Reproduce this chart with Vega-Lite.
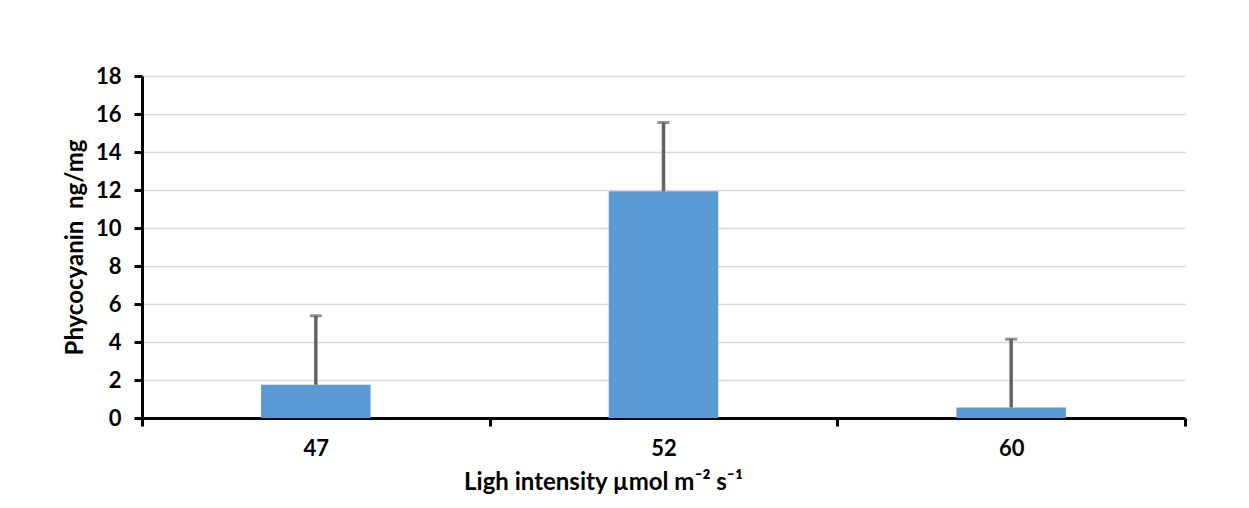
{
  "$schema": "https://vega.github.io/schema/vega-lite/v6.json",
  "autosize": {"type": "none"},
  "width": 1043,
  "height": 342,
  "padding": {"left": 142, "top": 76, "right": 64, "bottom": 90},
  "background": "white",
  "config": {
    "view": {"stroke": null},
    "font": "Lato",
    "axisY": {
      "tickCount": 10,
      "labelOverlap": false,
      "labelFont": "Lato", "labelFontSize": 22, "labelFontWeight": "bold", "labelColor": "black", "labelPadding": 13,
      "tickColor": "black", "tickWidth": 3, "tickSize": 8,
      "domainColor": "black", "domainWidth": 3,
      "grid": true, "gridColor": "#d9d9d9", "gridWidth": 1.5,
      "titleFont": "Lato", "titleFontSize": 24, "titleFontWeight": "bold", "titleColor": "black",
      "titleX": -67, "titleY": 171, "titleAngle": -90, "titleAlign": "center", "titleBaseline": "middle"
    }
  },
  "data": {"values": [
    {"light": "47", "value": 1.75, "upper": 5.38},
    {"light": "52", "value": 11.93, "upper": 15.55},
    {"light": "60", "value": 0.55, "upper": 4.15}
  ]},
  "encoding": {
    "x": {
      "field": "light", "type": "nominal", "sort": ["47", "52", "60"],
      "scale": {"type": "band", "paddingInner": 0, "paddingOuter": 0},
      "axis": {
        "title": "Ligh intensity µmol m⁻² s⁻¹",
        "labelAngle": 0, "labelFont": "Lato", "labelFontSize": 22, "labelFontWeight": "bold", "labelColor": "black",
        "labelPadding": 12, "labelBaseline": "top",
        "tickBand": "extent", "tickColor": "black", "tickWidth": 3, "tickSize": 8,
        "domainColor": "black", "domainWidth": 3, "grid": false,
        "titleFont": "Lato", "titleFontSize": 24, "titleFontWeight": "bold", "titleColor": "black",
        "titleX": 461, "titleY": 71, "titleAlign": "center", "titleBaseline": "alphabetic"
      }
    }
  },
  "layer": [
    {
      "mark": {"type": "bar", "color": "#5b9bd5", "width": {"band": 0.315}},
      "encoding": {
        "y": {
          "field": "value", "type": "quantitative",
          "scale": {"domain": [0, 18], "nice": false},
          "axis": {"title": "Phycocyanin\u00a0 ng/mg"}
        }
      }
    },
    {
      "mark": {"type": "rule", "color": "#636363", "strokeWidth": 3.5},
      "encoding": {
        "y": {"field": "value", "type": "quantitative"},
        "y2": {"field": "upper"}
      }
    },
    {
      "mark": {"type": "tick", "color": "#636363", "thickness": 3, "size": 12, "orient": "horizontal"},
      "encoding": {
        "y": {"field": "upper", "type": "quantitative"}
      }
    }
  ]
}
